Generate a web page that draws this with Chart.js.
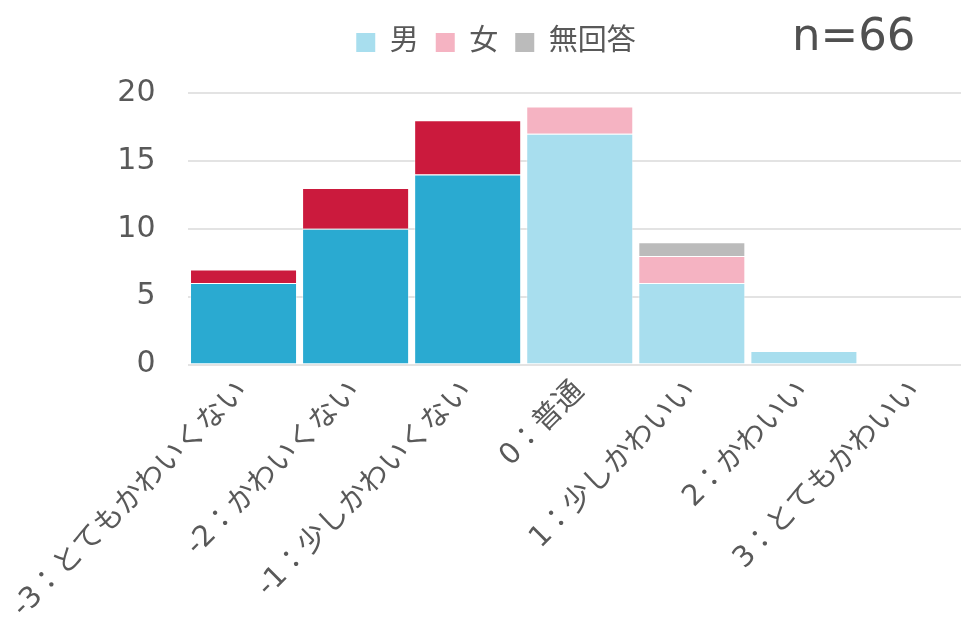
<!DOCTYPE html>
<html lang="ja">
<head>
<meta charset="utf-8">
<script src="https://cdn.jsdelivr.net/npm/chart.js@4"></script>
<style>
  html, body { margin: 0; padding: 0; background: #fff; overflow: hidden; }
  #wrap { width: 975px; height: 639px; position: relative; }
</style>
</head>
<body>
<div id="wrap"><canvas id="grafico"></canvas></div>
<script>
// 回答の選択肢（-3〜3）
const categorias = [
    '-3：とてもかわいくない',
    '-2：かわいくない',
    '-1：少しかわいくない',
    '0：普通',
    '1：少しかわいい',
    '2：かわいい',
    '3：とてもかわいい'
];

// 性別ごとの人数
const masculino = [6, 10, 14, 17, 6, 1, 0];
const feminino  = [1, 3, 4, 2, 2, 0, 0];
const semResposta = [0, 0, 0, 0, 1, 0, 0];

const totalRespostas = 'n=66';
const ticksY = [0, 5, 10, 15, 20];

// 否定側（マイナス）は濃い色、それ以外は淡い色
const corHomemEscuro = '#2AAAD1';
const corHomemClaro = '#A8DEEE';
const corMulherEscuro = '#CB1A3D';
const corMulherClaro = '#F5B3C2';
const corCinza = '#BBBBBB';

const coresHomem = categorias.map((c, i) => i < 3 ? corHomemEscuro : corHomemClaro);
const coresMulher = categorias.map((c, i) => i < 3 ? corMulherEscuro : corMulherClaro);
const coresLegenda = [corHomemClaro, corMulherClaro, corCinza];

const fonteTexto = "'DejaVu Sans', 'Noto Sans CJK JP', sans-serif";
const corTexto = '#595959';

const pluginTotal = {
    id: 'textoTotal',
    beforeInit(chart) {
        // espaço extra abaixo da legenda
        const fitOriginal = chart.legend.fit;
        chart.legend.fit = function () {
            fitOriginal.call(this);
            this.height += 26;
        };
    },
    afterLayout(chart) {
        // legenda um pouco à direita do centro
        chart.legend.left += 10;
        chart.legend.right += 10;
    },
    afterDraw(chart) {
        // texto "n=66" no canto superior direito
        const ctx = chart.ctx;
        ctx.save();
        ctx.font = "45px 'DejaVu Sans', sans-serif";
        ctx.fillStyle = '#505050';
        ctx.textBaseline = 'alphabetic';
        ctx.textAlign = 'left';
        ctx.fillText(totalRespostas, 792, 50);
        ctx.restore();
    }
};

const bordaBarra = 'rgba(255,255,255,0.45)';

const ctx = document.getElementById('grafico').getContext('2d');

new Chart(ctx, {
    type: 'bar',
    data: {
        labels: categorias,
        datasets: [
            { label: '男', data: masculino, backgroundColor: coresHomem },
            { label: '女', data: feminino, backgroundColor: coresMulher },
            { label: '無回答', data: semResposta, backgroundColor: corCinza }
        ]
    },
    options: {
        responsive: true,
        maintainAspectRatio: false,
        animation: false,
        layout: {
            padding: { top: 11, right: 3, left: 0, bottom: 0 }
        },
        datasets: {
            bar: {
                categoryPercentage: 1,
                barPercentage: 0.955,
                borderColor: bordaBarra,
                borderWidth: 1
            }
        },
        scales: {
            x: {
                stacked: true,
                grid: { display: false, drawTicks: false },
                border: { display: false },
                ticks: {
                    color: corTexto,
                    font: { family: fonteTexto, size: 29 },
                    minRotation: 45,
                    maxRotation: 45,
                    autoSkip: false,
                    padding: 10
                },
                afterFit(scale) {
                    scale.height = 274.5;
                    scale.paddingLeft = 0;
                    scale.paddingRight = 0;
                }
            },
            y: {
                stacked: true,
                min: 0,
                max: 20,
                afterBuildTicks(scale) {
                    scale.ticks = ticksY.map(v => ({ value: v }));
                },
                grid: {
                    color: '#E3E3E3',
                    lineWidth: 2,
                    drawTicks: false
                },
                border: { display: false },
                ticks: {
                    color: corTexto,
                    font: { family: fonteTexto, size: 30 },
                    padding: 32
                },
                afterFit(scale) { scale.width = 187.5; }
            }
        },
        plugins: {
            legend: {
                position: 'top',
                labels: {
                    color: corTexto,
                    font: { family: fonteTexto, size: 29 },
                    boxWidth: 19,
                    boxHeight: 19,
                    padding: 17,
                    generateLabels(chart) {
                        const itens = Chart.defaults.plugins.legend.labels.generateLabels(chart);
                        itens.forEach((item, i) => {
                            item.fillStyle = coresLegenda[i];
                            item.strokeStyle = coresLegenda[i];
                            item.lineWidth = 0;
                        });
                        return itens;
                    }
                }
            },
            tooltip: { enabled: false }
        }
    },
    plugins: [pluginTotal]
});
</script>
</body>
</html>
